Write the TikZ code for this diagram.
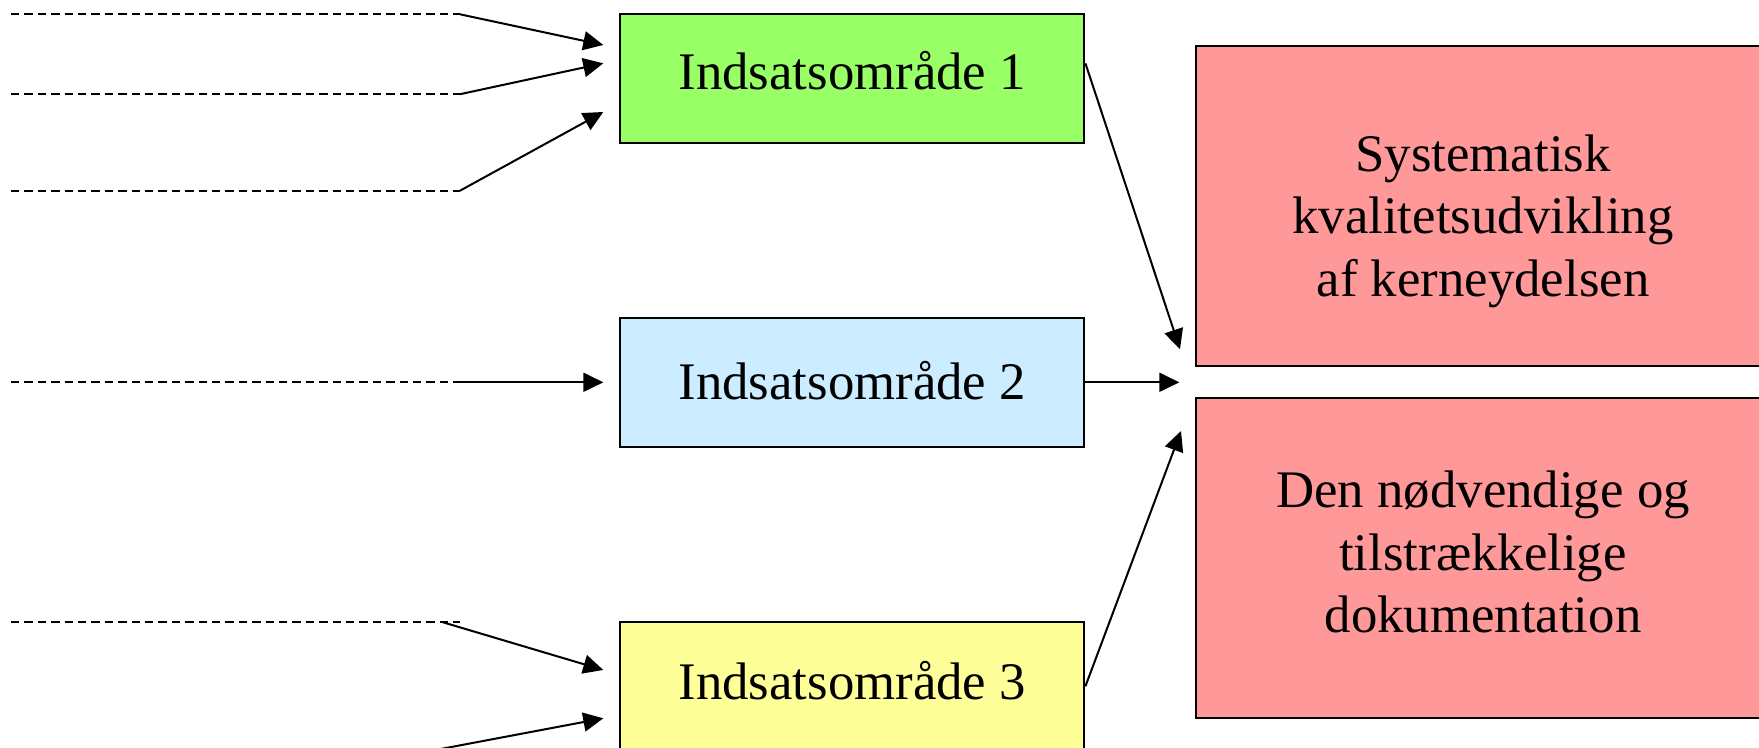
\documentclass[tikz,border=0pt]{standalone}
\usepackage{fontspec}
\setmainfont{Liberation Serif}
\usetikzlibrary{arrows.meta,calc}

\definecolor{omrgreen}{RGB}{153,255,102}
\definecolor{omrblue}{RGB}{204,236,255}
\definecolor{omryellow}{RGB}{255,255,153}
\definecolor{resred}{RGB}{255,153,153}

\tikzset{every picture/.style={line width=1pt}}
\tikzset{
  omrbox/.style={draw, minimum width=232.2pt, minimum height=64.2pt, inner sep=0pt, font=\fontsize{26.4}{31.4}\selectfont},
  resbox/.style={draw, fill=resred, minimum width=287pt, minimum height=160pt, inner sep=0pt},
  restext/.style={align=center, inner sep=0pt, font=\fontsize{26.4}{31.4}\selectfont},
  feed/.style={dash pattern=on 4.2pt off 2.5pt},
  pil/.style={-{Triangle[length=10pt,width=9.5pt]}}
}

\begin{document}
\begin{tikzpicture}[x=0.5pt,y=0.5pt,yscale=-1,xscale=1]
\clip (0,0) rectangle (1759,748);
% Indsatsomraader
\node[omrbox, fill=omrgreen, text depth=8pt] (omr1) at (852.2,78.5) {Indsatsområde 1};
\node[omrbox, fill=omrblue, text depth=2pt] (omr2) at (852.2,382.3) {Indsatsområde 2};
\node[omrbox, fill=omryellow, text depth=5.6pt] (omr3) at (852.2,686.3) {Indsatsområde 3};
% Resultater
\node[resbox] (kerne) at (1483,206.4) {};
\node[resbox] (dok) at (1483,558.3) {};
\node[restext] (kerne tekst) at (1483,221.2) {Systematisk\\kvalitetsudvikling\\af kerneydelsen};
\node[restext] (dok tekst) at (1483,552) {Den nødvendige og\\tilstrækkelige\\dokumentation};

% Tilfoersel
\coordinate (s1) at (11,14.3);   \coordinate (k1) at (460,14.3);   \coordinate (p1) at (603.3,45);
\coordinate (s2) at (11,94.2);   \coordinate (k2) at (460,94.2);   \coordinate (p2) at (603.3,63.3);
\coordinate (s3) at (11,190.7);  \coordinate (k3) at (460,190.7);  \coordinate (p3) at (603.3,112);
\coordinate (s4) at (11,382.3);  \coordinate (k4) at (455,382.3);  \coordinate (p4) at (603.3,382.3);
\coordinate (s5) at (11,622.3);  \coordinate (k5) at (460,622.3);  \coordinate (j5) at (443,622.3);
\coordinate (p5) at (603.3,670);
\coordinate (j6) at (420,752.9); \coordinate (p6) at (603.3,718.3);

\draw[feed] (s1) -- (k1);
\draw[pil] (k1) -- (p1);
\draw[feed] (s2) -- (k2);
\draw[pil] (k2) -- (p2);
\draw[feed] (s3) -- (k3);
\draw[pil] (k3) -- (p3);
\draw[feed] (s4) -- (k4);
\draw[pil] (k4) -- (p4);
\draw[feed] (s5) -- (k5);
\draw[pil] (j5) -- (p5);
\draw[pil] (j6) -- (p6);

% Mod resultaterne
\coordinate (m1) at (1180,349.3);
\coordinate (m2) at (1179.3,382.3);
\coordinate (m3) at (1181,431);
\draw[pil] ($(omr1.east)+(0,-15.2)$) -- (m1);
\draw[pil] (omr2.east) -- (m2);
\draw[pil] (omr3.east) -- (m3);
\end{tikzpicture}
\end{document}
